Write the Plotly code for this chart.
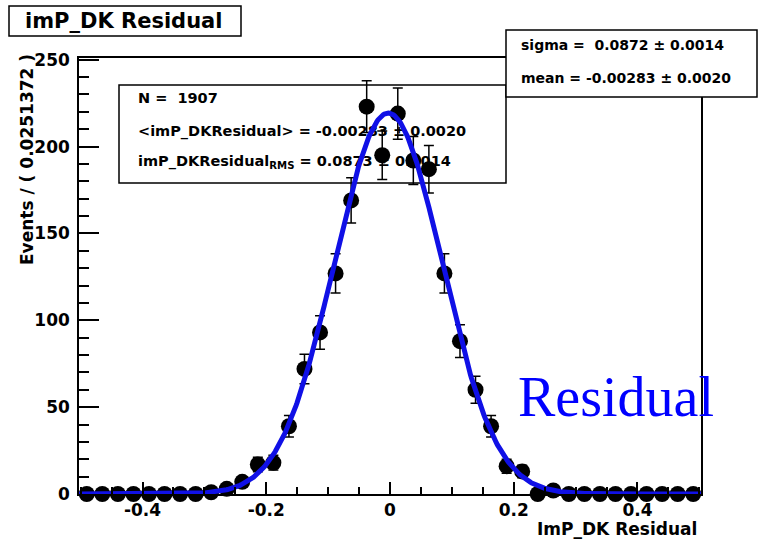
import numpy as np
import plotly.graph_objects as go

# ---- histogram of imP_DK residuals (40 bins) ----
BIN_WIDTH = 0.0251372
X_LO, X_HI = -0.502744, 0.502744
counts = [0, 0, 0, 0, 0, 0, 0, 0,
          1, 3, 7, 17, 18, 39, 72, 93, 127, 169, 223, 195,
          219, 192, 187, 127, 88, 60, 39, 16, 13, 0, 2,
          0, 0, 0, 0, 0, 0, 0, 0, 0]

# ---- Gaussian fit result ----
n_events = 1907
fit_mean = -0.00283
fit_sigma = 0.0872

# ---- statistics box texts ----
stat_lines = [
    "N =  1907",
    "&lt;imP_DKResidual&gt; = -0.00283 ± 0.0020",
    "imP_DKResidual<sub>RMS</sub> = 0.0873 ± 0.0014",
]
fit_lines = [
    "sigma =  0.0872 ± 0.0014",
    "mean = -0.00283 ± 0.0020",
]
y_ticks = [0, 50, 100, 150, 200, 250]
x_ticks = [-0.4, -0.2, 0, 0.2, 0.4]
x_tick_text = ["-0.4", "-0.2", "0", "0.2", "0.4"]

W, H = 760, 541
FRAME = dict(l=79, r=701, t=58, b=494)   # pixel frame of the plot
Y_TOP = 251.0

def px(x):
    return x / W

def py(y):
    return 1 - y / H

centers = X_LO + (np.arange(len(counts)) + 0.5) * BIN_WIDTH
cnt = np.array(counts, dtype=float)
err = np.sqrt(cnt)

xs = np.linspace(X_LO, X_HI, 600)
norm = n_events * BIN_WIDTH / (np.sqrt(2 * np.pi) * fit_sigma)
curve = norm * np.exp(-0.5 * ((xs - fit_mean) / fit_sigma) ** 2)

BOLD = "DejaVu Sans"
fig = go.Figure()

# text layer (pixel coordinates) lying under the data points
stat_x = [138, 138, 138]
stat_y = [99, 132, 162]
fig.add_trace(go.Scatter(
    x=stat_x, y=stat_y, text=stat_lines, mode="text",
    textposition="middle right",
    textfont=dict(family=BOLD, size=14.5, color="black", weight="bold"),
    xaxis="x", yaxis="y", hoverinfo="skip", showlegend=False,
))

# data points with Poisson errors
fig.add_trace(go.Scatter(
    x=centers, y=cnt, mode="markers",
    marker=dict(color="black", size=16),
    error_y=dict(type="data", array=err, visible=True, color="black",
                 thickness=1.5, width=5),
    cliponaxis=False, xaxis="x2", yaxis="y2", showlegend=False,
))

# Gaussian fit curve
fig.add_trace(go.Scatter(
    x=xs, y=curve, mode="lines",
    line=dict(color="#1010e6", width=5),
    cliponaxis=False, xaxis="x2", yaxis="y2", showlegend=False,
))

tickfont = dict(family=BOLD, size=17, color="black", weight="bold")

fig.update_layout(
    width=W, height=H,
    autosize=False,
    margin=dict(l=0, r=0, t=0, b=0, pad=0, autoexpand=False),
    paper_bgcolor="white",
    plot_bgcolor="rgba(0,0,0,0)",
    xaxis=dict(domain=[0, 1], range=[0, W], visible=False, fixedrange=True,
               automargin=False),
    yaxis=dict(domain=[0, 1], range=[H, 0], visible=False, fixedrange=True,
               automargin=False),
    xaxis2=dict(
        domain=[px(FRAME["l"]), px(FRAME["r"])], range=[X_LO, X_HI],
        anchor="y2", showline=True, linecolor="black", linewidth=1.5,
        mirror=True, showgrid=False, zeroline=False, automargin=False,
        tickmode="array", tickvals=x_ticks, ticktext=x_tick_text,
        ticks="inside", ticklen=12, tickwidth=1.5, tickcolor="black",
        minor=dict(dtick=0.05, tick0=0, ticks="inside", ticklen=7,
                   tickwidth=1.5, tickcolor="black", showgrid=False),
        tickfont=tickfont,
    ),
    yaxis2=dict(
        domain=[py(FRAME["b"]), py(FRAME["t"])], range=[0, Y_TOP],
        anchor="x2", showline=True, linecolor="black", linewidth=1.5,
        mirror=True, showgrid=False, zeroline=False, automargin=False,
        tickmode="array", tickvals=y_ticks,
        ticks="inside", ticklen=20, tickwidth=1.5, tickcolor="black",
        minor=dict(dtick=10, tick0=0, ticks="inside", ticklen=10,
                   tickwidth=1.5, tickcolor="black", showgrid=False),
        tickfont=tickfont, ticklabelstandoff=4,
    ),
    showlegend=False,
)

shapes = [
    # statistics box (under the data)
    dict(type="rect", xref="paper", yref="paper", layer="below",
         x0=px(119), x1=px(506), y0=py(183), y1=py(85),
         fillcolor="white", line=dict(color="black", width=1.5)),
    # fit parameter box
    dict(type="rect", xref="paper", yref="paper", layer="above",
         x0=px(506), x1=px(757), y0=py(97), y1=py(30),
         fillcolor="white", line=dict(color="black", width=1.5)),
    # title box
    dict(type="rect", xref="paper", yref="paper", layer="above",
         x0=px(9), x1=px(241), y0=py(36), y1=py(6),
         fillcolor="white", line=dict(color="black", width=1.5)),
]
fig.update_layout(shapes=shapes)

ann = []
for txt, yy in zip(fit_lines, [45, 78]):
    ann.append(dict(text=txt, x=px(519), y=py(yy), xref="paper", yref="paper",
                    xanchor="left", yanchor="middle", showarrow=False,
                    font=dict(family=BOLD, size=14, color="black", weight="bold")))
ann.append(dict(text="imP_DK Residual", x=px(123), y=py(21), xref="paper",
                yref="paper", xanchor="center", yanchor="middle", showarrow=False,
                font=dict(family=BOLD, size=21, color="black", weight="bold")))
ann.append(dict(text="Events / ( 0.0251372 )", x=px(27), y=py(160),
                xref="paper", yref="paper", xanchor="center", yanchor="middle",
                textangle=-90, showarrow=False,
                font=dict(family=BOLD, size=17, color="black", weight="bold")))
ann.append(dict(text="ImP_DK Residual", x=px(699), y=py(529), xref="paper",
                yref="paper", xanchor="right", yanchor="middle", showarrow=False,
                font=dict(family=BOLD, size=17, color="black", weight="bold")))
ann.append(dict(text="Residual", x=px(616), y=py(397), xref="paper",
                yref="paper", xanchor="center", yanchor="middle", showarrow=False,
                font=dict(family="Liberation Serif", size=56, color="#0000ff")))
fig.update_layout(annotations=ann)

fig.write_html("out.html")
